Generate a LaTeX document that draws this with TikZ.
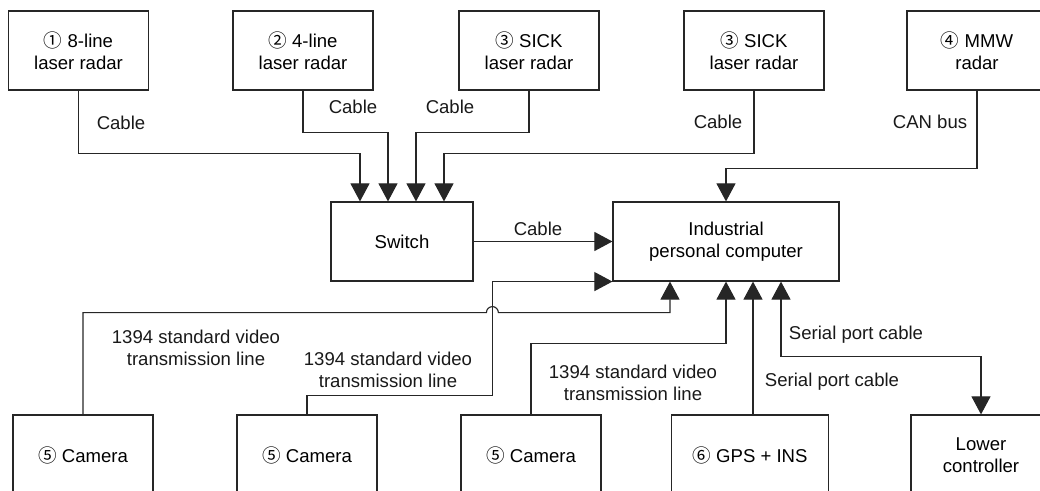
\documentclass[tikz,border=0pt]{standalone}
\usepackage{fontspec}
\setmainfont{Liberation Sans}
\newfontfamily\circfont{Noto Sans CJK SC}
\usetikzlibrary{arrows.meta,calc}
\newcommand{\circnum}[1]{{\circfont #1}}

\begin{document}
\begin{tikzpicture}[
    x=0.025cm, y=-0.025cm,
    font=\fontsize{13.2}{15.6}\selectfont,
    box/.style={draw=black!85, line width=0.8pt, align=center, inner sep=0pt,
      minimum width=3.5cm, minimum height=1.975cm},
    lbl/.style={align=center, inner sep=0pt, text=black!90},
    arrow/.style={-{Triangle[length=12.8pt,width=13.5pt]}, line width=0.8pt, draw=black!85},
    dblarrow/.style={arrow, {Triangle[length=12.8pt,width=13.5pt]}-{Triangle[length=12.8pt,width=13.5pt]}}
  ]
  \useasboundingbox (0,0) rectangle (1040,491);
  \clip (0,0) rectangle (1040,491);

  % sensors
  \node[box] (lidar8) at (78.5,50.5) {\circnum{①} 8-line\\laser radar};
  \node[box] (lidar4) at (303,50.5) {\circnum{②} 4-line\\laser radar};
  \node[box] (sicka) at (529,50.5) {\circnum{③} SICK\\laser radar};
  \node[box] (sickb) at (754,50.5) {\circnum{③} SICK\\laser radar};
  \node[box] (mmw) at (977,50.5) {\circnum{④} MMW\\radar};

  \node[box, minimum width=3.55cm] (switch) at (402,241.5) {Switch};
  \node[box, minimum width=5.65cm] (ipc) at (726,241.5) {Industrial\\personal computer};

  \node[box, minimum height=2cm] (cam1) at (83,455) {\circnum{⑤} Camera};
  \node[box, minimum height=2cm] (cam2) at (307,455) {\circnum{⑤} Camera};
  \node[box, minimum height=2cm] (cam3) at (531,455) {\circnum{⑤} Camera};
  \node[box, minimum height=2cm, minimum width=3.925cm] (gps) at (750,455) {\circnum{⑥} GPS + INS};
  \node[box, minimum height=2cm] (lower) at (981,455) {Lower\\controller};

  % connector labels
  \node[lbl] (cable1) at (121,123) {Cable};
  \node[lbl] (cable2) at (353,107) {Cable};
  \node[lbl] (cable3) at (450,107) {Cable};
  \node[lbl] (cable4) at (718,122) {Cable};
  \node[lbl] (canbus) at (930,122) {CAN bus};
  \node[lbl] (cable5) at (538,229) {Cable};
  \node[lbl] (video1) at (196,348) {1394 standard video\\transmission line};
  \node[lbl] (video2) at (388,370) {1394 standard video\\transmission line};
  \node[lbl] (video3) at (633,382.5) {1394 standard video\\transmission line};
  \node[lbl] (serial1) at (856,335) {Serial port cable};
  \node[lbl] (serial2) at (832,382) {Serial port cable};

  \draw[arrow] (lidar8.south) -- ++(0,63) -| ($(switch.north)+(-42,0)$);
  \draw[arrow] (lidar4.south) -- ++(0,42) -| ($(switch.north)+(-14,0)$);
  \draw[arrow] (sicka.south) -- ++(0,42) -| ($(switch.north)+(14,0)$);
  \draw[arrow] (sickb.south) -- ++(0,63) -| ($(switch.north)+(42,0)$);
  \draw[arrow] (mmw.south) -- ++(0,78) -| (ipc.north);
  \draw[arrow] (switch) -- (ipc);

  \coordinate (hop) at ($(ipc.south west)+(-120,31)$);
  \draw[arrow] (cam1.north) |- ($(hop)+(-6,0)$) arc[start angle=180, end angle=0, radius=4.25pt]
    -| ($(ipc.south)+(-56,0)$);
  \draw[arrow] (cam2.north) -- ++(0,-19) -| ($(hop)+(0,-31)$) -- (ipc.south west);
  \draw[arrow] (cam3.north) -- ++(0,-71) -| (ipc.south);
  \draw[arrow] ($(gps.north)+(3,0)$) -- ($(ipc.south)+(27,0)$);
  \draw[dblarrow] ($(ipc.south)+(55,0)$) -- ++(0,75) -| (lower.north);
\end{tikzpicture}
\end{document}
